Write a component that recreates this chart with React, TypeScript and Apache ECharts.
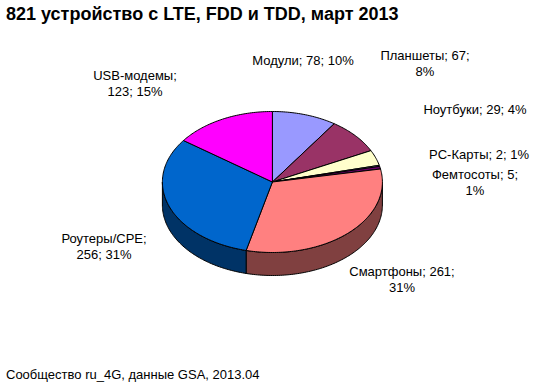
import React, { useEffect, useRef } from "react";
import * as echarts from "echarts";

const categories = ["Модули", "Планшеты", "Ноутбуки", "PC-Карты", "Фемтосоты", "Смартфоны", "Роутеры/CPE", "USB-модемы"];
const values = [78, 67, 29, 2, 5, 261, 256, 123];
const percents = [10, 8, 4, 1, 1, 31, 31, 15];

const TITLE = "821 устройство с LTE, FDD и TDD, март 2013";
const FOOTNOTE = "Сообщество ru_4G, данные GSA, 2013.04";

const TOP_COLORS = ["#9999FF", "#993366", "#FFFFCC", "#CCFFFF", "#660066", "#FF8080", "#0066CC", "#FF00FF"];
const SIDE_COLORS = ["#4D4D80", "#4D1A33", "#808066", "#668080", "#330033", "#804040", "#003366", "#800080"];
// label layout: centre positions and line-break style (0 none, 1 before %, 2 after name)
const LABEL_POS = [[303, 60], [425, 63], [475, 109], [479, 154], [475, 182], [402, 279], [104, 246], [135, 83]];
const LABEL_BREAK = [0, 1, 0, 0, 1, 1, 2, 2];

const CX = 272.4, CY = 182, RX = 110, RY = 70.5, DEPTH = 23;
const FONT = "Liberation Sans, Arial, sans-serif";

function labelText(i: number): string {
  const n = categories[i], v = values[i], p = percents[i] + "%";
  if (LABEL_BREAK[i] === 1) return `${n}; ${v};\n${p}`;
  if (LABEL_BREAK[i] === 2) return `${n};\n${v}; ${p}`;
  return `${n}; ${v}; ${p}`;
}

export default function App() {
  const ref = useRef<HTMLDivElement>(null);
  useEffect(() => {
    const chart = echarts.init(ref.current!, null, { renderer: "svg" });
    const total = values.reduce((a, b) => a + b, 0);
    const pt = (a: number, dy: number) => [CX + RX * Math.sin(a), CY - RY * Math.cos(a) + dy];
    const arc = (s: number, e: number, dy: number) => {
      const n = Math.max(2, Math.ceil((e - s) / (Math.PI / 180)));
      const out: number[][] = [];
      for (let k = 0; k <= n; k++) out.push(pt(s + ((e - s) * k) / n, dy));
      return out;
    };
    chart.setOption({
      animation: false,
      backgroundColor: "#fff",
      graphic: [
        { type: "text", x: 6, y: 14, style: { text: TITLE, font: `bold 18px ${FONT}`, fill: "#000", verticalAlign: "middle" } },
        { type: "text", x: 6, y: 374, style: { text: FOOTNOTE, font: `13px ${FONT}`, fill: "#000", verticalAlign: "middle" } },
      ],
      series: [
        {
          type: "custom",
          coordinateSystem: "none",
          data: values,
          renderItem: (params: any, api: any) => {
            const i = params.dataIndex;
            let cum = 0;
            for (let j = 0; j < i; j++) cum += values[j];
            const v = api.value(0);
            const a1 = (cum / total) * Math.PI * 2;
            const a2 = ((cum + v) / total) * Math.PI * 2;
            const children: any[] = [];
            const s = Math.max(a1, Math.PI / 2), e = Math.min(a2, (Math.PI * 3) / 2);
            if (e > s) {
              const pts = [...arc(s, e, 0), ...arc(s, e, DEPTH).reverse()];
              children.push({ type: "polygon", shape: { points: pts }, style: { fill: SIDE_COLORS[i], stroke: "#000", lineWidth: 1 } });
            }
            children.push({
              type: "polygon",
              shape: { points: [[CX, CY], ...arc(a1, a2, 0)] },
              style: { fill: TOP_COLORS[i], stroke: "#000", lineWidth: 1, lineJoin: "round" },
            });
            children.push({
              type: "text",
              x: LABEL_POS[i][0],
              y: LABEL_POS[i][1],
              style: { text: labelText(i), font: `13px ${FONT}`, fill: "#000", align: "center", verticalAlign: "middle", lineHeight: 16 },
            });
            return { type: "group", children };
          },
        },
      ],
    });
    return () => chart.dispose();
  }, []);
  return <div ref={ref} style={{ position: "fixed", left: 0, top: 0, width: 544, height: 385 }} />;
}
